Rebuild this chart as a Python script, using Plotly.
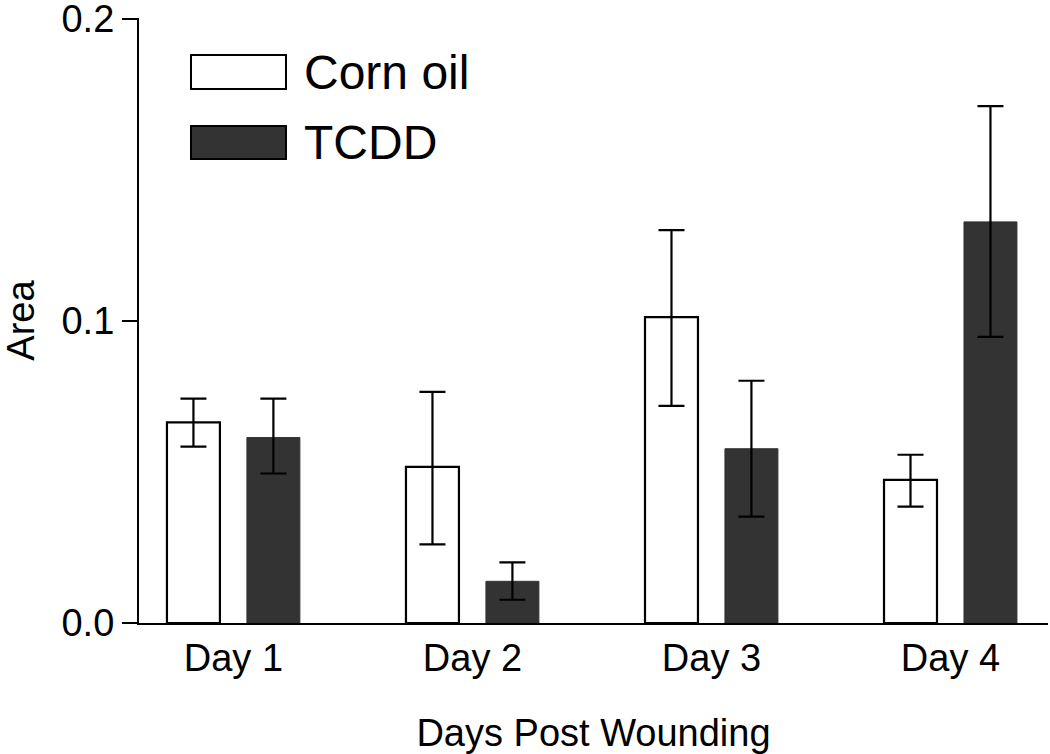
import plotly.graph_objects as go

days = ["Day 1", "Day 2", "Day 3", "Day 4"]
series_names = ["Corn oil", "TCDD"]

corn_mean = [0.0664, 0.0517, 0.1013, 0.0474]
corn_upper = [0.0743, 0.0765, 0.1301, 0.0557]
corn_lower = [0.0584, 0.0260, 0.0719, 0.0385]

tcdd_mean = [0.0614, 0.0138, 0.0577, 0.1328]
tcdd_upper = [0.0743, 0.0201, 0.0802, 0.1711]
tcdd_lower = [0.0495, 0.0077, 0.0352, 0.0947]

y_ticks = [0.0, 0.1, 0.2]
y_ticktext = ["0.0", "0.1", "0.2"]

FONT = "Liberation Sans, Arial, sans-serif"
DARK = "#333333"


def err(mean, upper, lower):
    return dict(
        type="data",
        symmetric=False,
        array=[u - m for u, m in zip(upper, mean)],
        arrayminus=[m - l for m, l in zip(mean, lower)],
        color="black",
        thickness=2.2,
        width=13,
    )


fig = go.Figure()
fig.add_trace(go.Bar(
    x=days, y=corn_mean, name=series_names[0],
    marker=dict(color="white", line=dict(color="black", width=2.2)),
    error_y=err(corn_mean, corn_upper, corn_lower),
    showlegend=False,
))
fig.add_trace(go.Bar(
    x=days, y=tcdd_mean, name=series_names[1],
    marker=dict(color=DARK, line=dict(color=DARK, width=1)),
    error_y=err(tcdd_mean, tcdd_upper, tcdd_lower),
    showlegend=False,
))

# Manual legend (large boxes as in the reference)
legend_boxes = [
    dict(y0=0.8826, y1=0.9388, fill="white", line="black", ty=0.9107),
    dict(y0=0.7669, y1=0.8215, fill=DARK, line="black", ty=0.7934),
]
for name, b in zip(series_names, legend_boxes):
    fig.add_shape(type="rect", xref="paper", yref="paper",
                  x0=0.0572, x1=0.1617, y0=b["y0"], y1=b["y1"],
                  fillcolor=b["fill"], line=dict(color=b["line"], width=2))
    fig.add_annotation(xref="paper", yref="paper", x=0.1793, y=b["ty"],
                       text=name, showarrow=False, xanchor="left", yanchor="middle",
                       font=dict(family=FONT, size=48, color="black"))

fig.update_layout(
    width=1050, height=754,
    margin=dict(l=139, r=2, t=18, b=131),
    paper_bgcolor="white", plot_bgcolor="white",
    barmode="group", bargap=0.331, bargroupgap=0.3375,
    font=dict(family=FONT, color="black"),
    showlegend=False,
)
fig.update_xaxes(
    range=[-0.395, 3.408], automargin=False,
    showline=True, linecolor="black", linewidth=2.2,
    ticks="", showgrid=False, zeroline=False,
    tickfont=dict(family=FONT, size=38, color="black"),
    title=dict(text="Days Post Wounding", font=dict(family=FONT, size=38, color="black"), standoff=44),
)
fig.update_yaxes(
    range=[0, 0.2003], automargin=False, ticklabeloverflow="allow",
    tickvals=y_ticks, ticktext=y_ticktext,
    showline=True, linecolor="black", linewidth=2.2,
    ticks="outside", ticklen=15, tickwidth=2.2, tickcolor="black",
    showgrid=False, zeroline=False,
    tickfont=dict(family=FONT, size=38, color="black"),
    title=dict(text="Area", font=dict(family=FONT, size=38, color="black"), standoff=30),
)

fig.write_html("out.html", config={"displayModeBar": False},
               post_script="document.body.style.margin='0';")
